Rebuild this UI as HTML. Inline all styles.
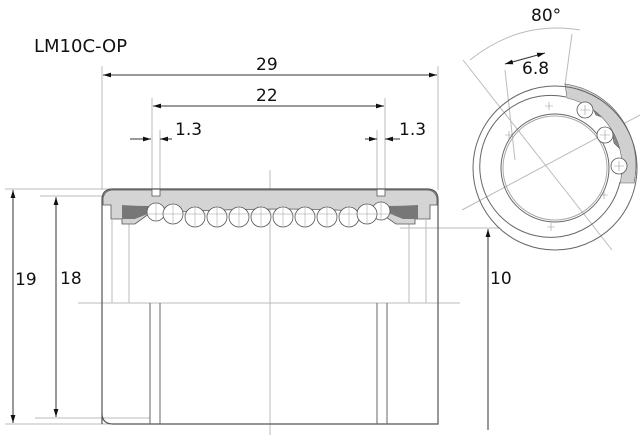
<!DOCTYPE html>
<html><head><meta charset="utf-8"><style>
html,body{margin:0;padding:0;background:#fff;}
svg{display:block;}
text{font-family:"DejaVu Sans","Liberation Sans",sans-serif;fill:#111;}
</style></head><body>
<svg width="640" height="440" viewBox="0 0 640 440" xmlns="http://www.w3.org/2000/svg">
<defs>
<marker id="a" viewBox="0 0 10 10" refX="10" refY="5" markerWidth="8" markerHeight="8" orient="auto-start-reverse"><path d="M0,2 L10,5 L0,8z" fill="#111"/></marker>
</defs>
<text x="34" y="52" font-size="18">LM10C-OP</text>
<g stroke="#bbb" stroke-width="1" fill="none">
<line x1="102" y1="66" x2="102" y2="190"/><line x1="438" y1="66" x2="438" y2="190"/>
<line x1="152" y1="98" x2="152" y2="190"/><line x1="160" y1="130" x2="160" y2="190"/>
<line x1="377" y1="130" x2="377" y2="190"/><line x1="385" y1="98" x2="385" y2="190"/>
<line x1="5" y1="189" x2="110" y2="189"/><line x1="5" y1="424" x2="110" y2="424"/>
<line x1="40" y1="196" x2="110" y2="196"/><line x1="35" y1="418" x2="150" y2="418"/>
<line x1="78" y1="303" x2="460" y2="303"/><line x1="270" y1="170" x2="270" y2="435"/>
<line x1="400" y1="228" x2="500" y2="228"/>
<line x1="112" y1="220" x2="112" y2="303"/><line x1="129" y1="220" x2="129" y2="303"/>
<line x1="409" y1="220" x2="409" y2="303"/><line x1="426" y1="220" x2="426" y2="303"/>
</g>
<g stroke="#333" stroke-width="1" fill="none">
<line x1="103" y1="75" x2="437" y2="75" marker-start="url(#a)" marker-end="url(#a)"/>
<line x1="153" y1="106" x2="384" y2="106" marker-start="url(#a)" marker-end="url(#a)"/>
<line x1="130" y1="139" x2="151" y2="139" marker-end="url(#a)"/><line x1="160" y1="139" x2="172" y2="139" marker-start="url(#a)"/>
<line x1="365" y1="139" x2="377" y2="139" marker-end="url(#a)"/><line x1="385" y1="139" x2="400" y2="139" marker-start="url(#a)"/>
<line x1="13" y1="190" x2="13" y2="423" marker-start="url(#a)" marker-end="url(#a)"/>
<line x1="56" y1="197" x2="56" y2="417" marker-start="url(#a)" marker-end="url(#a)"/>
<line x1="488" y1="229" x2="488" y2="430" marker-start="url(#a)"/>
</g>
<text x="256" y="70" font-size="17">29</text>
<text x="256" y="101" font-size="17">22</text>
<text x="175" y="135" font-size="17">1.3</text>
<text x="399" y="135" font-size="17">1.3</text>
<text x="15" y="285" font-size="17">19</text>
<text x="60" y="284" font-size="17">18</text>
<text x="490" y="284" font-size="17">10</text>
<path d="M102,424 V200 Q102,189 113,189 H427 Q438,189 438,200 V424 Q438,424 427,424 H113 Q102,424 102,413" fill="none" stroke="#555" stroke-width="1.2"/>
<line x1="150" y1="303" x2="150" y2="424" stroke="#666"/><line x1="160" y1="303" x2="160" y2="424" stroke="#666"/>
<line x1="377" y1="303" x2="377" y2="424" stroke="#666"/><line x1="387" y1="303" x2="387" y2="424" stroke="#666"/>
<path d="M103,198 Q105,190 113,190 H152 V196 H160 V190 H377 V196 H385 V190 H427 Q435,190 437,198 V205 H430 V219 H415 V224 H396 L380,213 Q300,205 150,213 L135,224 H122 V219 H111 V205 H103z" fill="#d4d4d4" stroke="#555" stroke-width="0.8"/>
<path d="M122,205 V219 H135 L150,213 V206 Q135,206 122,205z" fill="#777"/>
<path d="M418,205 V219 H403 L388,213 V206 Q403,206 418,205z" fill="#777"/>
<g fill="#fff" stroke="#555" stroke-width="0.8">
<circle cx="156" cy="212" r="9"/><circle cx="381" cy="211" r="9"/>
<circle cx="173" cy="214" r="10"/><circle cx="195" cy="217" r="10"/><circle cx="217" cy="217" r="10"/><circle cx="239" cy="217" r="10"/><circle cx="261" cy="217" r="10"/><circle cx="283" cy="217" r="10"/><circle cx="305" cy="217" r="10"/><circle cx="327" cy="217" r="10"/><circle cx="349" cy="217" r="10"/><circle cx="367" cy="214" r="10"/>
</g>
<g stroke="#999" stroke-width="0.5">
<line x1="147" y1="214" x2="395" y2="214"/>
<line x1="156" y1="203" x2="156" y2="221"/><line x1="173" y1="204" x2="173" y2="224"/><line x1="195" y1="207" x2="195" y2="227"/><line x1="217" y1="207" x2="217" y2="227"/><line x1="239" y1="207" x2="239" y2="227"/><line x1="261" y1="207" x2="261" y2="227"/><line x1="283" y1="207" x2="283" y2="227"/><line x1="305" y1="207" x2="305" y2="227"/><line x1="327" y1="207" x2="327" y2="227"/><line x1="349" y1="207" x2="349" y2="227"/><line x1="367" y1="204" x2="367" y2="224"/><line x1="381" y1="202" x2="381" y2="220"/>
</g>
<g fill="none" stroke="#bbb" stroke-width="1">
<line x1="463" y1="60" x2="612" y2="250"/><line x1="462" y1="210" x2="640" y2="115"/>
<line x1="505" y1="70" x2="515" y2="160"/><line x1="572" y1="34" x2="565" y2="85"/>
<path d="M470,60 Q520,20 580,30"/>
</g>
<path d="M565,84 A82,82 0 0 1 634,183 L625,180 Q624,176 619,172 L623,152 L614,143 L610,120 L596,115 L589,100 L570,98 Z" fill="#888" stroke="#555" stroke-width="0.6"/>
<path d="M565,84 A82,82 0 0 1 634,183 L620,183 A70,70 0 0 0 567,98z" fill="#d0d0d0" stroke="#666" stroke-width="0.6"/>
<g fill="none" stroke="#666" stroke-width="1">
<circle cx="555" cy="168" r="82"/>
<path d="M566,97 A71,71 0 1 0 620,182" />
<circle cx="555" cy="168" r="54"/><circle cx="555" cy="168" r="52" stroke="#aaa"/>
</g>
<g fill="#fff" stroke="#555" stroke-width="0.8"><circle cx="585" cy="110" r="8"/><circle cx="605" cy="135" r="8"/><circle cx="619" cy="166" r="8"/></g>
<g stroke="#999" stroke-width="0.6"><path d="M580,110h10M585,105v10M600,135h10M605,130v10M614,166h10M619,161v10M545,106h8M549,102v8M505,135h8M509,131v8M600,195h8M604,191v8M547,227h8M551,223v8"/></g>
<line x1="505" y1="64" x2="545" y2="53" stroke="#333" marker-start="url(#a)" marker-end="url(#a)"/>
<text x="531" y="21" font-size="17">80°</text>
<text x="522" y="74" font-size="17">6.8</text>
</svg>
</body></html>
